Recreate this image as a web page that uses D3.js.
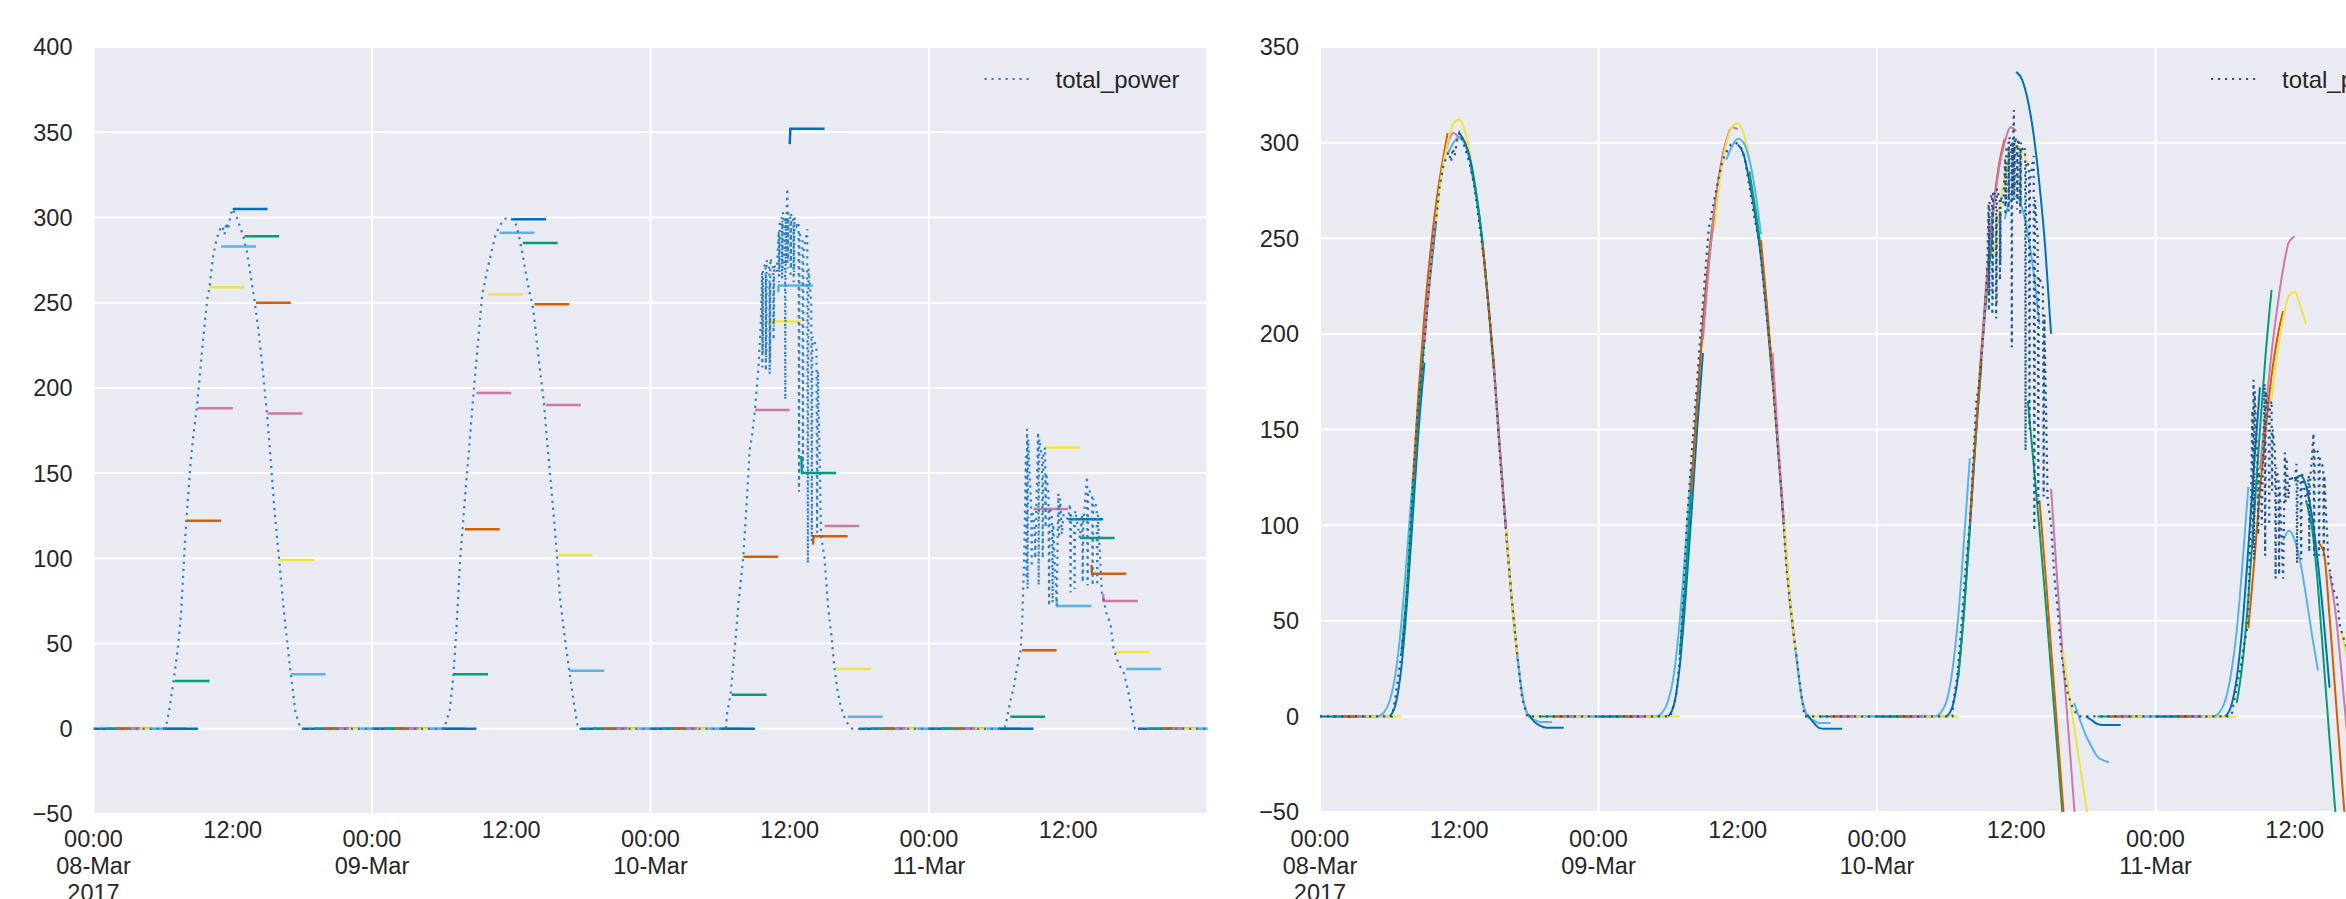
<!DOCTYPE html>
<html>
<head>
<meta charset="utf-8">
<script src="https://cdn.jsdelivr.net/npm/d3@7"></script>
<style>
body { margin: 0; background: #fff; }
svg { display: block; font-family: "Liberation Sans", Arial, sans-serif; }
</style>
</head>
<body>
<div id="chart"></div>
<script>
const width = 2346;
const height = 899;

// seaborn "colorblind" cycle, picked by the hour a forecast starts
const palette = ["#0072B2", "#009E73", "#D55E00", "#CC79A7", "#F0E442", "#56B4E9"];

const startDay = Date.UTC(2017, 2, 8);
const dayLabels = ["08-Mar", "09-Mar", "10-Mar", "11-Mar"];
const yearLabel = "2017";

// total_power, [hour of day, value]
const power08 = [
  [0, 0], [6.2, 0], [6.5, 10], [6.9, 28], [7.25, 46], [7.55, 68], [7.8, 100], [8.0, 122], [8.35, 155],
  [8.6, 172], [8.9, 188], [9.3, 218], [9.8, 252], [10.0, 259], [10.3, 277], [10.6, 287], [10.9, 293],
  [11.1, 295], [11.3, 290], [11.45, 297], [11.6, 293], [11.8, 301], [12.0, 305], [12.4, 299],
  [12.9, 289], [13.25, 279], [13.9, 250], [14.25, 232], [14.55, 213], [14.95, 185], [15.2, 164],
  [15.6, 128], [16.0, 99], [16.45, 66], [17.0, 32], [17.4, 10], [17.85, 0], [24, 0]
];
const power09 = [
  [0, 0], [6.2, 0], [6.7, 11], [7.0, 30], [7.3, 61], [7.6, 100], [7.8, 117], [8.1, 143], [8.35, 163],
  [8.75, 197], [9.2, 232], [9.5, 255], [10.0, 271], [10.4, 283], [10.7, 291], [11.1, 296], [11.4, 299],
  [11.8, 300], [12.1, 299], [12.4, 296], [12.65, 290], [12.9, 281], [13.4, 262], [13.9, 246],
  [14.4, 215], [14.8, 192], [15.1, 168], [15.4, 145], [15.7, 122], [15.95, 101], [16.2, 77],
  [16.6, 54], [17.0, 34], [17.4, 15], [17.75, 0], [24, 0]
];
const power10 = [
  [0, 0], [6.5, 0], [6.6, 9], [6.9, 20], [7.25, 46], [7.6, 75], [8.0, 101], [8.3, 134], [8.55, 164],
  [8.75, 172], [9.0, 187], [9.3, 212], [9.5, 236],
  [9.62, 268], [9.64, 212], [9.66, 262], [9.68, 220], [9.7, 270],
  [9.92, 273], [9.94, 210], [9.96, 266], [9.98, 218], [10.0, 275],
  [10.25, 270], [10.27, 208], [10.29, 262], [10.31, 215], [10.33, 276],
  [10.58, 270], [10.6, 228], [10.62, 264], [10.64, 236], [10.66, 272],
  [10.88, 268],
  [11.05, 292], [11.07, 262], [11.09, 290], [11.11, 268], [11.13, 296],
  [11.32, 300], [11.34, 264], [11.36, 298], [11.38, 270], [11.4, 303],
  [11.58, 298], [11.62, 193], [11.66, 300], [11.68, 272], [11.7, 296],
  [11.8, 317], [11.82, 270], [11.84, 300], [11.86, 275], [11.88, 303],
  [12.05, 300], [12.07, 265], [12.09, 298], [12.11, 270], [12.13, 302],
  [12.32, 298], [12.34, 262], [12.36, 296], [12.38, 268], [12.4, 300],
  [12.6, 295],
  [12.76, 297], [12.8, 139], [12.84, 290],
  [13.1, 288], [13.14, 150], [13.18, 280],
  [13.5, 293], [13.56, 97], [13.62, 270],
  [13.85, 250], [13.9, 110], [13.95, 230],
  [14.3, 224], [14.36, 115], [14.42, 210],
  [14.6, 150], [14.7, 113],
  [15.0, 100], [15.3, 72], [15.6, 54], [15.85, 36], [16.1, 23], [16.4, 13], [16.7, 7], [17.0, 3],
  [17.4, 0], [24, 0]
];
const power11 = [
  [0, 0], [6.45, 0], [6.6, 2], [7.03, 17], [7.32, 25], [7.6, 36], [7.9, 46], [8.04, 66], [8.18, 95],
  [8.24, 114],
  [8.35, 160], [8.4, 88], [8.45, 176], [8.5, 82], [8.55, 170],
  [8.8, 130], [8.85, 95], [8.9, 128],
  [9.1, 120], [9.15, 100],
  [9.4, 174], [9.45, 84], [9.5, 170],
  [9.75, 158], [9.8, 100], [9.85, 160],
  [10.0, 165], [10.05, 118], [10.1, 150],
  [10.3, 138], [10.35, 72], [10.4, 130],
  [10.6, 124], [10.65, 74], [10.7, 120],
  [11.0, 72],
  [11.15, 138], [11.2, 112], [11.3, 135], [11.45, 114], [11.6, 126], [11.8, 124], [12.0, 123],
  [12.15, 132], [12.2, 80], [12.25, 126],
  [12.5, 122], [12.55, 82], [12.6, 128],
  [13.0, 112],
  [13.2, 126], [13.25, 86], [13.3, 121],
  [13.62, 148], [13.67, 84], [13.72, 140],
  [14.05, 138], [14.1, 84], [14.15, 135],
  [14.45, 130], [14.5, 84], [14.55, 126],
  [14.9, 80],
  [15.06, 75], [15.35, 66], [15.63, 62], [15.92, 46], [16.0, 45], [16.35, 38], [16.78, 33],
  [17.2, 21], [17.64, 3], [17.75, 0], [24, 0]
];

// left chart: persistence forecast issued every hour (hours 0..95), held 3 h
const persistLevel = [
  0, 0, 0, 0, 0, 0, 0, 28, 122, 188, 259, 283, 305, 289, 250, 185, 99, 32, 0, 0, 0, 0, 0, 0,
  0, 0, 0, 0, 0, 0, 0, 32, 117, 197, 255, 291, 299, 285, 249, 190, 102, 34, 0, 0, 0, 0, 0, 0,
  0, 0, 0, 0, 0, 0, 0, 20, 101, 187, 239, 260, 352, 150, 113, 119, 35, 7, 0, 0, 0, 0, 0, 0,
  0, 0, 0, 0, 0, 0, 0, 7, 46, 129, 165, 72, 123, 112, 91, 75, 45, 35, 0, 0, 0, 0, 0, 0
];
// first value where it differs from the held level (hour, value)
const persistHook = [[59, 256], [60, 343], [61, 160], [62, 108], [83, 75], [86, 96], [87, 79]];

// right chart: model forecasts, [start hour, values every 30 min for 3 h]; other hours stay at 0
const modelForecast = [
  [5, [0, 2, 8, 22, 48, 85, 125]],
  [6, [0, 6, 25, 60, 105, 150, 185]],
  [7, [32, 68, 115, 160, 198, 230, 258]],
  [8, [122, 170, 210, 242, 268, 288, 305]],
  [9, [195, 232, 262, 285, 299, 305, 302]],
  [10, [259, 284, 300, 310, 312, 306, 292]],
  [11, [294, 300, 303, 299, 288, 270, 247]],
  [12, [305, 300, 290, 272, 248, 216, 180]],
  [13, [287, 272, 248, 216, 182, 140, 100]],
  [14, [247, 216, 182, 140, 100, 63, 32]],
  [15, [182, 138, 99, 62, 32, 9, 0]],
  [16, [99, 63, 32, 9, 0, 0, 0]],
  [17, [32, 9, 0, -2, -3, -3, -3]],
  [18, [1, -3, -5, -6, -6, -6, -6]],

  [29, [0, 2, 8, 22, 50, 88, 130]],
  [30, [0, 6, 26, 62, 105, 150, 190]],
  [31, [32, 72, 120, 165, 205, 238, 262]],
  [32, [117, 165, 205, 240, 266, 286, 300]],
  [33, [197, 235, 265, 287, 301, 308, 307]],
  [34, [255, 282, 299, 308, 310, 305, 292]],
  [35, [291, 298, 302, 300, 291, 275, 252]],
  [36, [299, 294, 280, 262, 240, 210, 175]],
  [37, [285, 266, 244, 214, 178, 138, 98]],
  [38, [249, 216, 178, 138, 98, 60, 34]],
  [39, [190, 142, 100, 62, 34, 10, 0]],
  [40, [102, 62, 34, 10, 0, 0, 0]],
  [41, [34, 10, 0, -2, -3.5, -3.5, -3.5]],
  [42, [1, -3, -6, -6.5, -6.5, -6.5, -6.5]],

  [53, [0, 2, 8, 24, 52, 92, 135]],
  [54, [0, 5, 22, 55, 98, 145, 185]],
  [55, [20, 55, 100, 145, 188, 225, 255]],
  [56, [101, 148, 192, 232, 264, 288, 302]],
  [57, [187, 230, 262, 286, 300, 308, 306]],
  [58, [239, 263, 282, 294, 298, 296, 288]],
  [59, [260, 270, 272, 266, 252, 232, 205]],
  [60, [337, 333, 322, 304, 278, 245, 200]],
  [61, [165, 132, 98, 62, 24, -14, -52]],
  [62, [113, 76, 36, -4, -44, -84, -124]],
  [63, [119, 74, 32, -8, -48, -88, -128]],
  [64, [35, 14, -6, -26, -46, -66, -86]],
  [65, [7, -2, -10, -16, -21, -23, -24]],
  [66, [0, -2, -4, -4.5, -4.5, -4.5, -4.5]],

  [77, [0, 2, 8, 22, 45, 80, 120]],
  [78, [0, 5, 20, 48, 88, 132, 172]],
  [79, [7, 28, 62, 105, 150, 190, 223]],
  [80, [46, 80, 118, 150, 178, 198, 212]],
  [81, [129, 160, 190, 214, 234, 248, 251]],
  [82, [165, 190, 208, 220, 222, 214, 205]],
  [83, [92, 97, 92, 80, 62, 42, 24]],
  [84, [123, 126, 120, 104, 80, 50, 15]],
  [85, [112, 98, 68, 28, -12, -50, -88]],
  [86, [91, 86, 52, 12, -28, -68, -108]],
  [87, [75, 55, 25, -8, -40, -72, -104]],
  [88, [45, 30, 12, -5, -22, -40, -58]],
  [89, [35, 15, 0, -8, -12, -14, -15]],
  [90, [0, -2, -4, -5, -5, -5, -5]]
];

const leftTicks = d3.range(-50, 401, 50);
const rightTicks = d3.range(-50, 351, 50);

const hours = 96;
const plotW = 1114;
const toDate = h => new Date(startDay + h * 3600e3);

const totalPower = [power08, power09, power10, power11]
  .flatMap((day, d) => day.map(([h, v]) => ({ t: d * 24 + h, v })));

const svg = d3.select("#chart")
  .append("svg")
  .attr("width", width)
  .attr("height", height)
  .attr("viewBox", [0, 0, width, height]);

function drawPanel(cfg) {
  const x = d3.scaleUtc([toDate(0), toDate(hours)], [cfg.x0, cfg.x0 + plotW]);
  const y = d3.scaleLinear([-50, cfg.yMax], [cfg.bottom, cfg.top]);
  const g = svg.append("g");

  g.append("rect")
    .attr("x", cfg.x0).attr("y", cfg.top)
    .attr("width", plotW).attr("height", cfg.bottom - cfg.top)
    .attr("fill", "#EAEAF2");

  g.selectAll(".hgrid")
    .data(cfg.ticks)
    .join("line")
    .attr("x1", cfg.x0).attr("x2", cfg.x0 + plotW)
    .attr("y1", d => y(d)).attr("y2", d => y(d))
    .attr("stroke", "#fff").attr("stroke-width", 2);

  const midnights = d3.range(0, hours + 1, 24);
  g.selectAll(".vgrid")
    .data(midnights)
    .join("line")
    .attr("x1", d => x(toDate(d))).attr("x2", d => x(toDate(d)))
    .attr("y1", cfg.top).attr("y2", cfg.bottom)
    .attr("stroke", "#fff").attr("stroke-width", 2);

  const clipId = "clip-" + cfg.name;
  svg.append("clipPath").attr("id", clipId)
    .append("rect")
    .attr("x", cfg.x0).attr("y", cfg.top)
    .attr("width", plotW).attr("height", cfg.bottom - cfg.top);

  const plot = g.append("g").attr("clip-path", `url(#${clipId})`);

  const line = d3.line()
    .x(d => x(toDate(d.t)))
    .y(d => y(d.v))
    .curve(cfg.curve);

  plot.selectAll(".fc")
    .data(cfg.forecasts)
    .join("path")
    .attr("d", d => line(d.points))
    .attr("fill", "none")
    .attr("stroke", d => palette[d.h % 6])
    .attr("stroke-width", cfg.fcWidth);

  plot.append("path")
    .attr("d", d3.line().x(d => x(toDate(d.t))).y(d => y(d.v))(totalPower))
    .attr("fill", "none")
    .attr("stroke", cfg.dotColor)
    .attr("stroke-width", 2.2)
    .attr("stroke-dasharray", "2.2,4.8");

  // y tick labels
  g.selectAll(".ylab")
    .data(cfg.ticks)
    .join("text")
    .attr("x", cfg.x0 - 21)
    .attr("y", d => y(d))
    .attr("dy", "0.36em")
    .attr("text-anchor", "end")
    .attr("font-size", 23.5)
    .attr("fill", "#262626")
    .text(d => d < 0 ? "\u2212" + Math.abs(d) : d);

  // x tick labels: 12:00 minor, 00:00 major with date
  g.selectAll(".noon")
    .data(d3.range(12, hours, 24))
    .join("text")
    .attr("x", d => x(toDate(d)))
    .attr("y", 838)
    .attr("text-anchor", "middle")
    .attr("font-size", 23.5)
    .attr("fill", "#262626")
    .text("12:00");

  const major = g.selectAll(".major")
    .data(d3.range(0, hours, 24))
    .join("text")
    .attr("x", d => x(toDate(d)))
    .attr("y", 847)
    .attr("text-anchor", "middle")
    .attr("font-size", 23.5)
    .attr("fill", "#262626");
  major.each(function (d, i) {
    const lines = ["00:00", dayLabels[i]].concat(i === 0 ? [yearLabel] : []);
    d3.select(this).selectAll("tspan")
      .data(lines)
      .join("tspan")
      .attr("x", x(toDate(d)))
      .attr("dy", (s, j) => j === 0 ? 0 : 27)
      .text(s => s);
  });

  // legend
  const lx = cfg.x0 + 891;
  g.append("line")
    .attr("x1", lx).attr("x2", lx + 49)
    .attr("y1", 79).attr("y2", 79)
    .attr("stroke", cfg.dotColor)
    .attr("stroke-width", 2.2)
    .attr("stroke-dasharray", "2.2,4.8");
  g.append("text")
    .attr("x", lx + 71)
    .attr("y", 79)
    .attr("dy", "0.36em")
    .attr("font-size", 24)
    .attr("fill", "#262626")
    .text("total_power");
}

const hookMap = new Map(persistHook);
const persistence = persistLevel.map((level, h) => {
  const start = hookMap.has(h) ? hookMap.get(h) : level;
  const points = start === level
    ? [{ t: h, v: level }, { t: h + 3, v: level }]
    : [{ t: h, v: start }, { t: h + 0.05, v: level }, { t: h + 3, v: level }];
  return { h, points };
});

const modelMap = new Map(modelForecast);
const model = d3.range(hours).map(h => {
  const vals = modelMap.get(h) || [0, 0, 0, 0, 0, 0, 0];
  return { h, points: vals.map((v, i) => ({ t: h + i * 0.5, v })) };
});

drawPanel({
  name: "left", x0: 93.5, top: 47, bottom: 814, yMax: 400, ticks: leftTicks,
  forecasts: persistence, curve: d3.curveLinear, fcWidth: 2.5, dotColor: "#2f80c0"
});
drawPanel({
  name: "right", x0: 1320, top: 47, bottom: 812, yMax: 350, ticks: rightTicks,
  forecasts: model, curve: d3.curveMonotoneX, fcWidth: 2, dotColor: "#22588c"
});
</script>
</body>
</html>
